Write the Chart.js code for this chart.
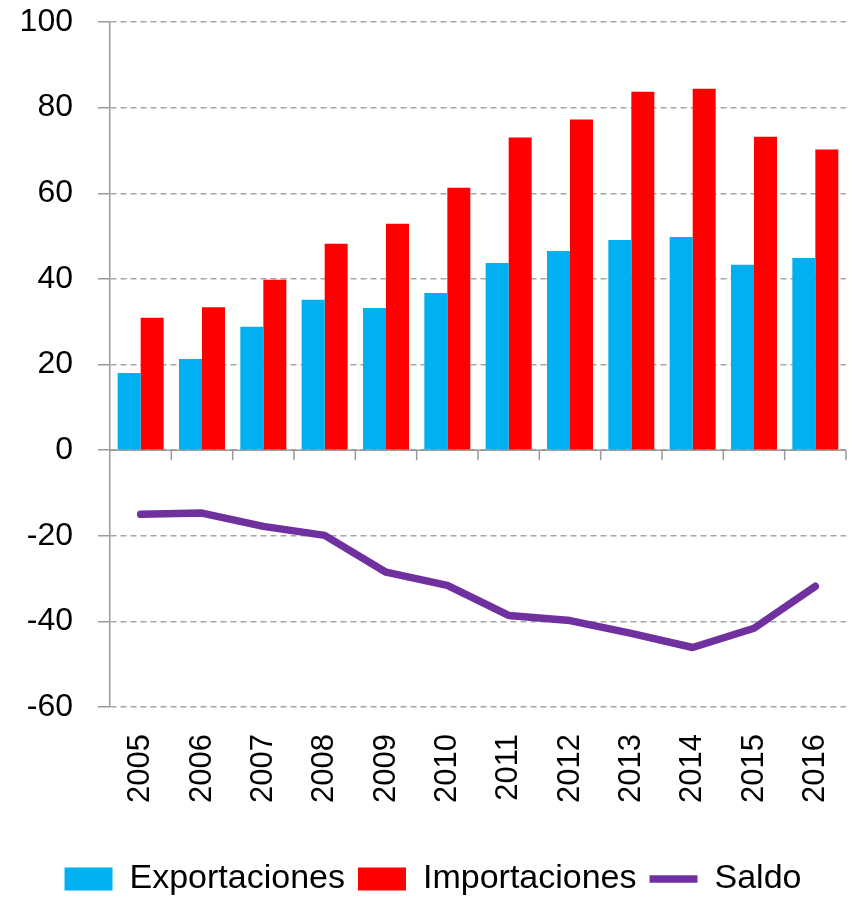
<!DOCTYPE html>
<html>
<head>
<meta charset="utf-8">
<script src="https://cdn.jsdelivr.net/npm/chart.js@4.4.0/dist/chart.umd.min.js"></script>
<style>
  html, body { margin: 0; padding: 0; background: #fff; }
  #wrap { width: 854px; height: 901px; position: relative; }
</style>
</head>
<body>
<div id="wrap"><canvas id="chart1"></canvas></div>
<script>
const years = ['2005', '2006', '2007', '2008', '2009', '2010', '2011', '2012', '2013', '2014', '2015', '2016'];
const exportaciones = [18.0, 21.3, 28.8, 35.1, 33.2, 36.7, 43.7, 46.5, 49.1, 49.8, 43.3, 44.9];
const importaciones = [30.9, 33.4, 39.8, 48.2, 52.9, 61.3, 73.0, 77.2, 83.7, 84.4, 73.2, 70.2];
const saldo = [-15.0, -14.7, -17.8, -19.9, -28.5, -31.6, -38.6, -39.8, -42.8, -46.1, -41.6, -31.8];

const FONT = '"Liberation Sans", Arial, sans-serif';
const AXIS_GREY = '#9a9a9a';

// solid axis at y = 0 with small tick marks between categories
const zeroAxis = {
  id: 'zeroAxis',
  beforeDatasetsDraw(chart) {
    const { ctx, chartArea, scales } = chart;
    const y0 = scales.y.getPixelForValue(0);
    ctx.save();
    ctx.strokeStyle = AXIS_GREY;
    ctx.lineWidth = 1.5;
    ctx.beginPath();
    ctx.moveTo(chartArea.left, y0);
    ctx.lineTo(chartArea.right, y0);
    for (let i = 1; i <= years.length; i++) {
      const x = scales.x.getPixelForValue(i - 0.5);
      ctx.moveTo(x, y0);
      ctx.lineTo(x, y0 + 10);
    }
    ctx.stroke();
    ctx.restore();
  }
};

new Chart(document.getElementById('chart1'), {
  type: 'bar',
  data: {
    labels: years,
    datasets: [
      {
        label: 'Exportaciones',
        data: exportaciones,
        backgroundColor: '#00B0F0',
        borderWidth: 0,
        pointStyle: 'rect',
        categoryPercentage: 0.75,
        barPercentage: 1.0
      },
      {
        label: 'Importaciones',
        data: importaciones,
        backgroundColor: '#FF0000',
        borderWidth: 0,
        pointStyle: 'rect',
        categoryPercentage: 0.75,
        barPercentage: 1.0
      },
      {
        type: 'line',
        label: 'Saldo',
        data: saldo,
        borderColor: '#7030A0',
        backgroundColor: '#7030A0',
        borderWidth: 7.5,
        borderCapStyle: 'round',
        borderJoinStyle: 'round',
        pointRadius: 0,
        pointHoverRadius: 0,
        pointStyle: 'line',
        tension: 0,
        fill: false
      }
    ]
  },
  options: {
    responsive: true,
    maintainAspectRatio: false,
    animation: false,
    layout: { padding: { left: 20, right: 8, top: 22, bottom: -5 } },
    plugins: {
      tooltip: { enabled: false },
      legend: {
        display: true,
        position: 'bottom',
        labels: {
          usePointStyle: true,
          pointStyleWidth: 48,
          boxHeight: 23,
          padding: 13,
          color: '#000',
          font: { family: FONT, size: 34 }
        }
      }
    },
    scales: {
      x: {
        grid: { display: false, drawTicks: false },
        border: { display: false },
        ticks: {
          color: '#000',
          minRotation: 90,
          maxRotation: 90,
          padding: 27,
          font: { family: FONT, size: 31 }
        },
        afterFit(scale) {
          scale.paddingLeft = 0;
          scale.paddingRight = 0;
          scale.height += 19;
        }
      },
      y: {
        min: -60,
        max: 100,
        ticks: {
          stepSize: 20,
          color: '#000',
          padding: 25,
          font: { family: FONT, size: 32 }
        },
        grid: {
          color: '#a6a6a6',
          lineWidth: 1.5,
          tickLength: 12,
          tickColor: AXIS_GREY
        },
        border: { display: true, color: AXIS_GREY, width: 1.5, dash: [6, 4] },
        afterFit(scale) {
          scale.width = 90;
          scale.paddingTop = 0;
          scale.paddingBottom = 0;
        }
      }
    }
  },
  plugins: [zeroAxis]
});
</script>
</body>
</html>
